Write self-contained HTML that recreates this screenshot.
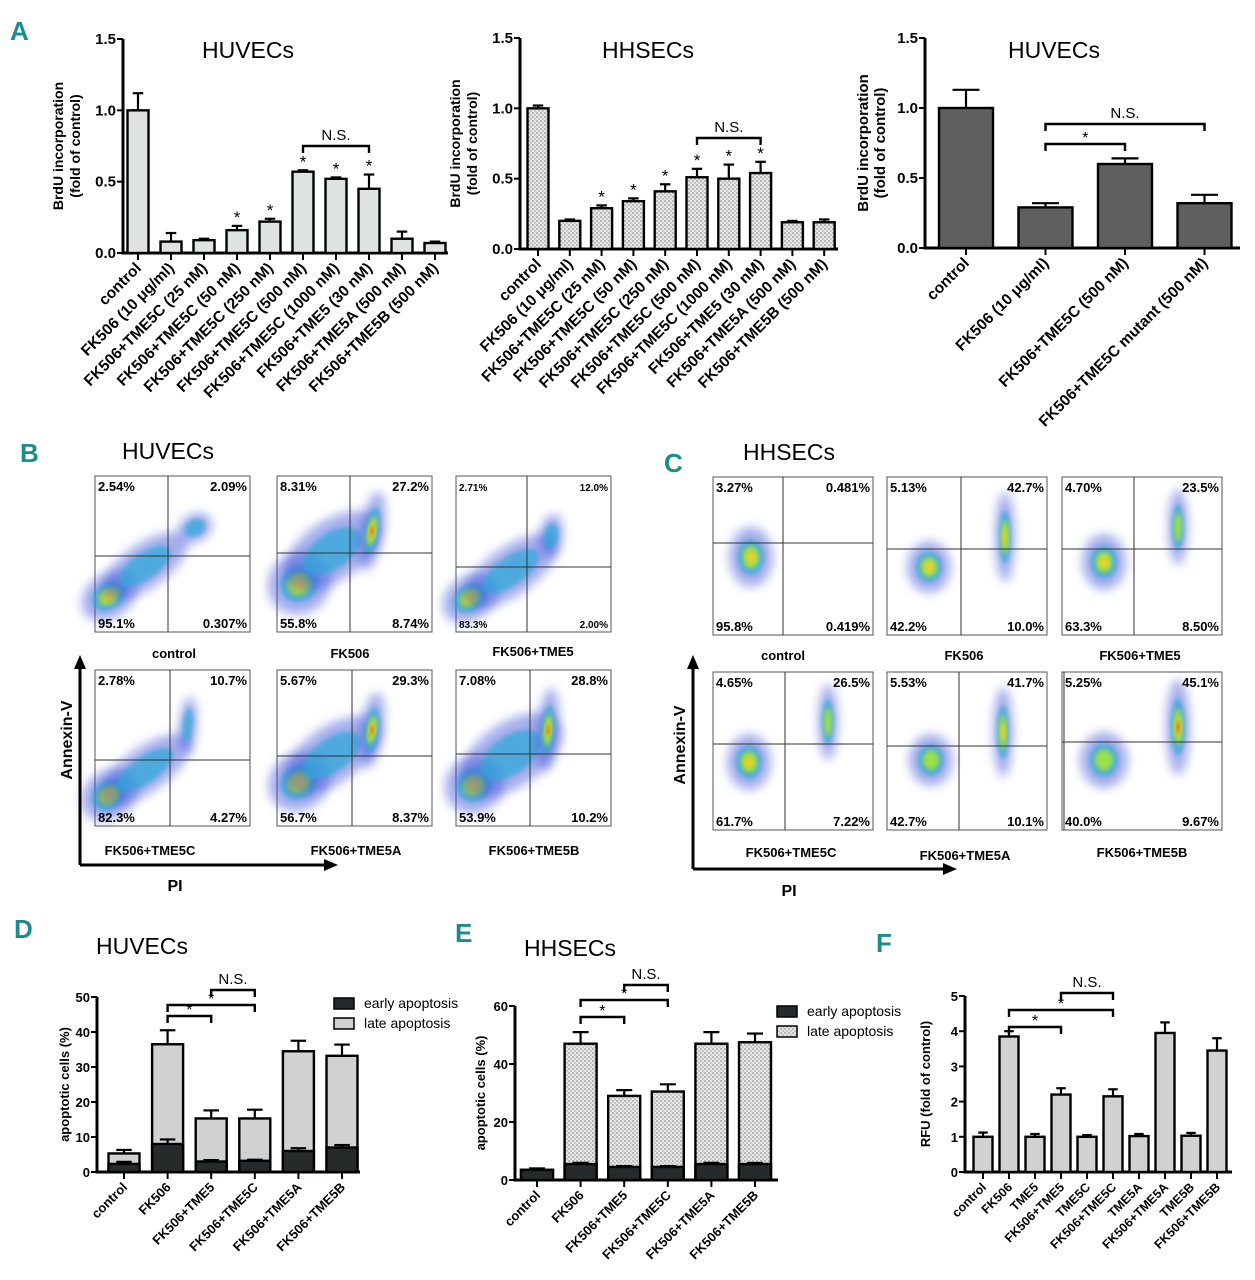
<!DOCTYPE html>
<html><head><meta charset="utf-8">
<style>
html,body{margin:0;padding:0;background:#fff;}
svg{display:block;font-family:"Liberation Sans",sans-serif;}
.lt{font-family:"Liberation Sans",sans-serif;font-weight:bold;fill:#1a8c8c;font-size:26px;}
</style></head>
<body>
<svg id="fig" width="1255" height="1280" viewBox="0 0 1255 1280" xmlns="http://www.w3.org/2000/svg">
<defs>
<pattern id="dots" width="4" height="4" patternUnits="userSpaceOnUse"><rect width="4" height="4" fill="#e4e6e4"/><circle cx="1" cy="1" r="0.7" fill="#777"/><circle cx="3" cy="3" r="0.7" fill="#999"/></pattern>
<filter id="bl" x="-50%" y="-50%" width="200%" height="200%"><feGaussianBlur stdDeviation="5"/></filter>
<filter id="bl2" x="-50%" y="-50%" width="200%" height="200%"><feGaussianBlur stdDeviation="2.5"/></filter>
</defs>
<text class="lt" x="10" y="40">A</text>
<text class="lt" x="20" y="462">B</text>
<text class="lt" x="664" y="472">C</text>
<text class="lt" x="14" y="938">D</text>
<text class="lt" x="455" y="942">E</text>
<text class="lt" x="876" y="952">F</text>
<g id="root"></g>
</svg>
<script>
// ---------- Data ----------
const a1Cats=["control","FK506 (10 μg/ml)","FK506+TME5C (25 nM)","FK506+TME5C (50 nM)","FK506+TME5C (250 nM)","FK506+TME5C (500 nM)","FK506+TME5C (1000 nM)","FK506+TME5 (30 nM)","FK506+TME5A (500 nM)","FK506+TME5B (500 nM)"];
const a1Vals=[1.0,0.08,0.09,0.16,0.22,0.57,0.52,0.45,0.10,0.07];
const a1Errs=[0.12,0.06,0.01,0.03,0.02,0.01,0.01,0.10,0.05,0.01];
const a2Cats=a1Cats;
const a2Vals=[1.0,0.20,0.29,0.34,0.41,0.51,0.50,0.54,0.19,0.19];
const a2Errs=[0.02,0.01,0.02,0.02,0.05,0.06,0.10,0.08,0.01,0.02];
const a3Cats=["control","FK506 (10 μg/ml)","FK506+TME5C (500 nM)","FK506+TME5C mutant (500 nM)"];
const a3Vals=[1.0,0.29,0.60,0.32];
const a3Errs=[0.13,0.03,0.04,0.06];
const aTicks=[0,0.5,1.0,1.5];
const aTickLabels=["0.0","0.5","1.0","1.5"];
const dCats=["control","FK506","FK506+TME5","FK506+TME5C","FK506+TME5A","FK506+TME5B"];
const dEarly=[2.3,8.0,3.0,3.2,6.0,7.0];
const dEarlyErr=[0.6,1.3,0.4,0.3,0.8,0.7];
const dTotal=[5.3,36.5,15.3,15.3,34.5,33.2];
const dTotalErr=[1.0,4.0,2.3,2.5,3.0,3.2];
const dTicks=[0,10,20,30,40,50];
const eCats=dCats;
const eEarly=[3.5,5.5,4.5,4.5,5.5,5.5];
const eEarlyErr=[0.5,0.4,0.3,0.3,0.4,0.4];
const eTotal=[3.5,47,29,30.5,47,47.5];
const eTotalErr=[0.5,4,2,2.5,4,3];
const eTicks=[0,20,40,60];
const fCats=["control","FK506","TME5","FK506+TME5","TME5C","FK506+TME5C","TME5A","FK506+TME5A","TME5B","FK506+TME5B"];
const fVals=[1.0,3.85,1.0,2.2,1.0,2.15,1.02,3.95,1.03,3.45];
const fErrs=[0.12,0.15,0.08,0.18,0.05,0.2,0.06,0.3,0.08,0.35];
const fTicks=[0,1,2,3,4,5];

const NS="http://www.w3.org/2000/svg";
const root=document.getElementById('root');
function mk(tag,attrs,parent,txt){const e=document.createElementNS(NS,tag);for(const k in attrs)e.setAttribute(k,attrs[k]);if(txt!==undefined)e.textContent=txt;(parent||root).appendChild(e);return e;}

function axes(c){
  const g=mk('g',{});
  
  
  c.g=g;
  c.ys=v=>c.y0-(v/c.max)*(c.y0-c.yTop);
  c.xs=i=>c.x1+i*c.step;
  const lw=c.lw||3;
  const ya=mk('line',{x1:c.ax,y1:c.y0,x2:c.ax,y2:c.yTop,stroke:'#000','stroke-width':lw},g);
  
  const xa=mk('line',{x1:c.ax-lw/2,y1:c.y0,x2:c.axEnd,y2:c.y0,stroke:'#000','stroke-width':lw},g);
  
  c.ticks.forEach((t,i)=>{
    const y=c.ys(t);
    mk('line',{x1:c.ax-6,y1:y,x2:c.ax,y2:y,stroke:'#000','stroke-width':2},g);
    const tl=mk('text',{x:c.ax-7,y:y+5,'text-anchor':'end','font-size':c.tfs||15,'font-weight':'bold'},g,c.tickLabels?c.tickLabels[i]:String(t));
    
  });
  c.cats.forEach((cat,i)=>{
    const x=c.xs(i);
    mk('line',{x1:x,y1:c.y0,x2:x,y2:c.y0+7,stroke:'#000','stroke-width':2},g);
    const t=mk('text',{x:x+4,y:c.y0+16,'text-anchor':'end','font-size':c.lfs||14,'font-weight':'bold',transform:`rotate(-45 ${x+4} ${c.y0+16})`},g,cat);
    
  });
  const yt=mk('text',{transform:`translate(${c.ytx},${(c.y0+c.yTop)/2}) rotate(-90)`,'text-anchor':'middle','font-size':c.yfs||14,'font-weight':'bold'},g);
  
  c.ytitle.forEach((l,i)=>{mk('tspan',{x:0,dy:i==0?0:17},yt,l);});
  if(c.title){const tt=mk('text',{x:c.tx,y:c.ty,'text-anchor':'middle','font-size':23},g,c.title);}
  return g;
}
function errbar(g,x,yb,yt,w){mk('line',{x1:x,y1:yb,x2:x,y2:yt,stroke:'#000','stroke-width':2.2},g);mk('line',{x1:x-w,y1:yt,x2:x+w,y2:yt,stroke:'#000','stroke-width':2.2},g);}
function simpleBars(c,vals,errs){
  vals.forEach((v,i)=>{
    const x=c.xs(i),y=c.ys(v);
    errbar(c.g,x,y,c.ys(v+errs[i]),c.bw/4);
    const r=mk('rect',{x:x-c.bw/2,y:y,width:c.bw,height:c.y0-y,fill:c.fill,stroke:'#000','stroke-width':2.4},c.g);
    
  });
}
function stackBars(c,early,eErr,total,tErr,lateFill){
  early.forEach((e,i)=>{
    const x=c.xs(i),yt=c.ys(total[i]),ye=c.ys(e);
    errbar(c.g,x,yt,c.ys(total[i]+tErr[i]),c.bw/4);
    const r=mk('rect',{x:x-c.bw/2,y:yt,width:c.bw,height:c.y0-yt,fill:lateFill,stroke:'#000','stroke-width':2.4},c.g);
    
    if(total[i]>e+0.5) errbar(c.g,x,ye,c.ys(e+eErr[i]),c.bw/4);
    const r2=mk('rect',{x:x-c.bw/2,y:ye,width:c.bw,height:c.y0-ye,fill:'#262a2a',stroke:'#000','stroke-width':2.4},c.g);
    
  });
}
function bracket(c,i1,i2,y,label){
  const x1=c.xs(i1),x2=c.xs(i2),d=7;
  mk('path',{d:`M${x1} ${y+d}V${y}H${x2}V${y+d}`,fill:'none',stroke:'#000','stroke-width':2.4},c.g);
  const t=mk('text',{x:(x1+x2)/2,y:label=='*'?y-1:y-6,'text-anchor':'middle','font-size':label=='*'?16:15},c.g,label);
  
}
function star(c,i,v){const t=mk('text',{x:c.xs(i),y:c.ys(v)-3,'text-anchor':'middle','font-size':17},c.g,'*');}

// A1
const A1={name:'chart-a1',ax:123,y0:253,yTop:39,max:1.5,ticks:aTicks,tickLabels:aTickLabels,x1:138,step:33,bw:21,axEnd:448,cats:a1Cats,ytitle:['BrdU incorporation','(fold of control)'],ytx:63,yfs:14,title:'HUVECs',tx:248,ty:58,fill:'#dfe3e1',lfs:15.5};
axes(A1);simpleBars(A1,a1Vals,a1Errs);
[3,4,5,6,7].forEach(i=>star(A1,i,a1Vals[i]+a1Errs[i]));
bracket(A1,5,7,146,'N.S.');
// A2
const A2={name:'chart-a2',ax:520,y0:249,yTop:38,max:1.5,ticks:aTicks,tickLabels:aTickLabels,x1:538,step:31.8,bw:21,axEnd:838,cats:a2Cats,ytitle:['BrdU incorporation','(fold of control)'],ytx:460,title:'HHSECs',tx:648,ty:58,fill:'url(#dots)',lfs:15.5};
axes(A2);simpleBars(A2,a2Vals,a2Errs);
[2,3,4,5,6,7].forEach(i=>star(A2,i,a2Vals[i]+a2Errs[i]));
bracket(A2,5,7,138,'N.S.');
// A3
const A3={name:'chart-a3',ax:925,y0:248,yTop:38,max:1.5,ticks:aTicks,tickLabels:aTickLabels,x1:966,step:79.5,bw:54,axEnd:1240,cats:a3Cats,ytitle:['BrdU incorporation','(fold of control)'],ytx:868,yfs:15,title:'HUVECs',tx:1054,ty:58,fill:'#5f5f5f',lfs:15.5};
axes(A3);simpleBars(A3,a3Vals,a3Errs);
bracket(A3,1,2,144,'*');bracket(A3,1,3,124,'N.S.');
// D
const D={name:'chart-d',ax:97,y0:1172,yTop:997,max:50,ticks:dTicks,x1:124,step:43.6,bw:31,axEnd:360,cats:dCats,ytitle:['apoptotic cells (%)'],ytx:69,yfs:13,title:'HUVECs',tx:142,ty:954,lfs:13,tfs:13};
axes(D);stackBars(D,dEarly,dEarlyErr,dTotal,dTotalErr,'#d0d1d0');
bracket(D,1,2,1016,'*');bracket(D,1,3,1005,'*');bracket(D,2,3,990,'N.S.');
// E
const E={name:'chart-e',ax:515,y0:1180,yTop:1006,max:60,ticks:eTicks,x1:537,step:43.6,bw:32,axEnd:778,cats:eCats,ytitle:['apoptotic cells (%)'],ytx:485,yfs:13,title:'HHSECs',tx:570,ty:956,lfs:13,tfs:13};
axes(E);stackBars(E,eEarly,eEarlyErr,eTotal,eTotalErr,'url(#dots)');
bracket(E,1,2,1017,'*');bracket(E,1,3,1000,'*');bracket(E,2,3,985,'N.S.');
// F
const F={name:'chart-f',ax:965,y0:1172,yTop:996,max:5,ticks:fTicks,x1:983,step:26,bw:19,axEnd:1232,cats:fCats,ytitle:['RFU (fold of control)'],ytx:930,yfs:13,lfs:12.5,tfs:13};
axes(F);simpleBars(F,fVals,fErrs);F.g.querySelectorAll('rect').forEach(r=>r.setAttribute('fill','#d0d1d0'));
bracket(F,1,3,1027,'*');bracket(F,1,5,1010,'*');bracket(F,3,5,993,'N.S.');

function legend(x,y,fill2){
  const g=mk('g',{});
  mk('rect',{x:x,y:y,width:20,height:11,fill:'#262a2a',stroke:'#000','stroke-width':1.5},g);
  mk('text',{x:x+30,y:y+10,'font-size':14},g,'early apoptosis');
  mk('rect',{x:x,y:y+20,width:20,height:11,fill:fill2,stroke:'#000','stroke-width':1.5},g);
  mk('text',{x:x+30,y:y+30,'font-size':14},g,'late apoptosis');
}
legend(334,998,'#d0d1d0');legend(777,1006,'url(#dots)');

// ---------- Flow cytometry panels ----------
function flow(x,y,w,h,vx,hy,q,blobs,label,lx,ly,small){
  const g=mk('g',{});
  mk('rect',{x:x,y:y,width:w,height:h,fill:'#fff',stroke:'#555','stroke-width':1},g);
  const cg=mk('g',{},g);
  blobs.forEach(b=>{
    const [bx,by,rx,ry,rot,lv]=b;
    const tr=`rotate(${rot} ${x+bx} ${y+by})`;
    mk('ellipse',{cx:x+bx,cy:y+by,rx:rx,ry:ry,fill:'#3a4ed8',opacity:0.45,filter:'url(#bl)',transform:tr},cg);
    mk('ellipse',{cx:x+bx,cy:y+by,rx:rx*0.6,ry:ry*0.6,fill:'#2aa8d8',opacity:0.7,filter:'url(#bl2)',transform:tr},cg);
    if(lv>0)mk('ellipse',{cx:x+bx,cy:y+by,rx:rx*0.38,ry:ry*0.38,fill:'#9ae04a',filter:'url(#bl2)',transform:tr},cg);
    if(lv>1)mk('ellipse',{cx:x+bx,cy:y+by,rx:rx*0.2,ry:ry*0.2,fill:'#f0d020',filter:'url(#bl2)',transform:tr},cg);
    if(lv>2)mk('ellipse',{cx:x+bx,cy:y+by,rx:rx*0.1,ry:ry*0.12,fill:'#e02010',filter:'url(#bl2)',transform:tr},cg);
  });
  mk('line',{x1:x+vx,y1:y,x2:x+vx,y2:y+h,stroke:'#333','stroke-width':1},g);
  mk('line',{x1:x,y1:y+hy,x2:x+w,y2:y+hy,stroke:'#333','stroke-width':1},g);
  const fs=small?10:13;
  const s=[[x+3,y+15,'start',q[0]],[x+w-3,y+15,'end',q[1]],[x+3,y+h-4,'start',q[2]],[x+w-3,y+h-4,'end',q[3]]];
  s.forEach(a=>{const t=mk('text',{x:a[0],y:a[1],'text-anchor':a[2],'font-size':fs,'font-weight':'bold'},g,a[3]);});
  const t=mk('text',{x:lx,y:ly,'text-anchor':'middle','font-size':13,'font-weight':'bold'},g,label);
}
const W=155,H=156;
flow(95,476,W,H,73,80,['2.54%','2.09%','95.1%','0.307%'],[[14,120,30,22,-35,2],[50,90,50,22,-35,0],[100,52,18,14,-30,0]],'control',174,658);
flow(277,476,W,H,73,77,['8.31%','27.2%','55.8%','8.74%'],[[22,108,32,30,-35,2],[55,75,55,30,-35,0],[95,55,12,40,10,3]],'FK506',350,658);
flow(456,476,W,H,71,91,['2.71%','12.0%','83.3%','2.00%'],[[14,122,30,22,-35,2],[55,95,55,24,-35,0],[95,60,12,22,10,0]],'FK506+TME5',533,656,true);
flow(95,670,W,H,75,90,['2.78%','10.7%','82.3%','4.27%'],[[14,125,30,24,-35,2],[50,100,55,22,-35,0],[93,55,9,28,5,0]],'FK506+TME5C',150,855);
flow(277,670,W,H,75,86,['5.67%','29.3%','56.7%','8.37%'],[[22,112,32,28,-35,2],[55,85,55,28,-35,0],[95,60,12,38,8,3]],'FK506+TME5A',356,855);
flow(456,670,W,H,74,84,['7.08%','28.8%','53.9%','10.2%'],[[18,115,30,28,-35,2],[55,85,58,32,-35,0],[92,60,11,42,5,3]],'FK506+TME5B',534,855);
const CW=160,CH=158;
flow(713,477,CW,CH,70,66,['3.27%','0.481%','95.8%','0.419%'],[[38,80,22,30,0,2]],'control',783,660);
flow(887,477,CW,CH,74,72,['5.13%','42.7%','42.2%','10.0%'],[[42,90,22,26,0,2],[118,60,10,45,0,2]],'FK506',964,660);
flow(1062,477,CW,CH,72,72,['4.70%','23.5%','63.3%','8.50%'],[[42,85,22,28,0,2],[116,50,10,38,0,1]],'FK506+TME5',1140,660);
flow(713,672,CW,CH,72,72,['4.65%','26.5%','61.7%','7.22%'],[[36,90,22,28,0,2],[115,50,10,38,0,1]],'FK506+TME5C',791,857);
flow(887,672,CW,CH,72,74,['5.53%','41.7%','42.7%','10.1%'],[[44,88,22,26,0,1],[116,60,10,45,0,2]],'FK506+TME5A',965,860);
flow(1062,672,CW,CH,2,70,['5.25%','45.1%','40.0%','9.67%'],[[42,88,24,28,0,1],[116,55,12,48,0,3]],'FK506+TME5B',1142,857);
function arrows(x,ytop,ybot,xend,px,py,ax,ay){
  const g=mk('g',{});
  mk('path',{d:`M${x} ${ybot}V${ytop+12}`,stroke:'#000','stroke-width':3,fill:'none'},g);
  mk('path',{d:`M${x-6} ${ytop+14}L${x} ${ytop}L${x+6} ${ytop+14}Z`,fill:'#000'},g);
  mk('path',{d:`M${x} ${ybot}H${xend-12}`,stroke:'#000','stroke-width':3,fill:'none'},g);
  mk('path',{d:`M${xend-14} ${ybot-6}L${xend} ${ybot}L${xend-14} ${ybot+6}Z`,fill:'#000'},g);
  mk('text',{x:px,y:py,'text-anchor':'middle','font-size':16,'font-weight':'bold'},g,'PI');
  mk('text',{transform:`translate(${ax},${ay}) rotate(-90)`,'text-anchor':'middle','font-size':16,'font-weight':'bold'},g,'Annexin-V');
}
arrows(80,655,865,338,175,891,72,740);
arrows(693,655,869,957,789,896,685,745);
const bt=mk('text',{x:168,y:459,'text-anchor':'middle','font-size':23},root,'HUVECs');


const ct=mk('text',{x:789,y:460,'text-anchor':'middle','font-size':23},root,'HHSECs');


</script>
</body></html>
